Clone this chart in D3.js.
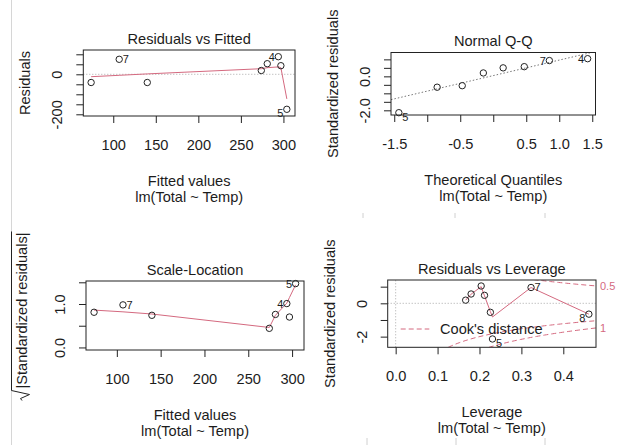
<!DOCTYPE html>
<html>
<head>
<meta charset="utf-8">
<style>
body { margin: 0; background: #fff; }
svg { display: block; font-family: "Liberation Sans", Arial, sans-serif; }
text { fill: #1c1c1c; font-size: 14.6px; }
.id { font-size: 11px; }
</style>
</head>
<body>
<svg width="623" height="445"></svg>
<script src="https://d3js.org/d3.v7.min.js"></script>
<script>

// observations, in order of fitted value
var ids      = ["8", "7", "1", "2", "3", "4", "6", "5"];
var fitted   = [74, 107, 140, 274, 281, 294, 297, 304];
var resid    = [-41, 75, -41, 19, 53, 88, 43, -175];
var stdRes   = [-0.65, 0.95, -0.54, 0.19, 0.56, 1.04, 0.48, -2.14];
var sqrtStd  = [0.81, 0.98, 0.74, 0.44, 0.76, 1.01, 0.70, 1.47];
var leverage = [0.461, 0.323, 0.226, 0.167, 0.180, 0.204, 0.212, 0.231];

// which ids get a label in each panel
var shownRF = ["7", "4", "5"];
var shownQQ = ["5", "7", "4"];
var shownSL = ["7", "4", "5"];
var shownRL = ["7", "8", "5"];

// red smoothers
var smoothRF = [-12, -5, 2, 28, 33, 37, 33, -123];
var smoothSL = [0.86, 0.82, 0.77, 0.46, 0.74, 1.02, 1.15, 1.44];
var smoothRL = [-0.65, 0.95, -0.5, 0.19, 0.55, 1.0, 0.45, -0.82];

// normal Q-Q
var qqTheo   = [-1.43, -0.85, -0.47, -0.15, 0.15, 0.47, 0.85, 1.43];
var qqSample = [-2.14, -0.64, -0.55, 0.2, 0.5, 0.57, 0.93, 1.04];
var qqIds    = ["5", "8", "1", "2", "6", "3", "7", "4"];

var cookLevels = [0.5, 1];
var nCoef = 2;

var ink = "#222", red = "#D4697F";
var svg = d3.select("svg");

// faint screenshot borders
svg.append("line").attr("x1", 11.5).attr("x2", 11.5).attr("y1", 0).attr("y2", 445)
    .attr("stroke", "#d6d6d6");
[[363, 213, 218], [455, 213, 218], [545, 213, 218], [367, 438, 445], [456, 438, 445], [545, 438, 445]]
  .forEach(function(m) {
    svg.append("line").attr("x1", m[0]).attr("x2", m[0]).attr("y1", m[1]).attr("y2", m[2])
        .attr("stroke", "#d0d0d0");
  });

var clipCount = 0;

function panel(p) {
  var g = svg.append("g");
  var b = p.box;
  var x = d3.scaleLinear().domain(p.xDomain).range([b[0], b[1]]);
  var y = d3.scaleLinear().domain(p.yDomain).range([b[3], b[2]]);

  var cid = "clip" + (clipCount++);
  g.append("clipPath").attr("id", cid).append("rect")
      .attr("x", b[0]).attr("y", b[2]).attr("width", b[1] - b[0]).attr("height", b[3] - b[2]);
  var inner = g.append("g").attr("clip-path", "url(#" + cid + ")");

  var xa = g.append("g").attr("transform", "translate(0," + b[3] + ")")
      .call(d3.axisBottom(x).tickValues(p.xTicks).tickSize(7).tickSizeOuter(0)
        .tickFormat(function(d) { return p.xLabels.indexOf(d) >= 0 ? p.xFmt(d) : ""; }));
  xa.attr("font-size", null).attr("font-family", null);
  xa.select(".domain").remove();
  xa.selectAll("line").attr("stroke", ink);
  xa.selectAll("text").attr("y", 33.5).attr("dy", null).attr("fill", null);

  var ya = g.append("g").attr("transform", "translate(" + b[0] + ",0)")
      .call(d3.axisLeft(y).tickValues(p.yTicks).tickSize(7).tickSizeOuter(0)
        .tickFormat(function(d) { return p.yLabels.indexOf(d) >= 0 ? p.yFmt(d) : ""; }));
  ya.attr("font-size", null).attr("font-family", null);
  ya.select(".domain").remove();
  ya.selectAll("line").attr("stroke", ink);
  ya.selectAll("text").attr("x", null).attr("dy", null).attr("fill", null)
      .attr("text-anchor", "middle").attr("transform", "translate(-21,0) rotate(-90)");

  var cx = (b[0] + b[1]) / 2, cy = (b[2] + b[3]) / 2;
  g.append("text").attr("x", cx).attr("y", b[2] - 6.5).attr("text-anchor", "middle").text(p.title);
  g.append("text").attr("x", cx).attr("y", b[3] + 69.5).attr("text-anchor", "middle").text(p.xlab);
  g.append("text").attr("x", cx).attr("y", b[3] + 85.8).attr("text-anchor", "middle").text("lm(Total ~ Temp)");

  if (p.ylab) {
    g.append("text").attr("text-anchor", "middle")
        .attr("transform", "translate(" + (b[0] - 53) + "," + cy + ") rotate(-90)")
        .text(p.ylab);
  }

  g.append("rect").attr("x", b[0]).attr("y", b[2]).attr("width", b[1] - b[0]).attr("height", b[3] - b[2])
      .attr("fill", "none").attr("stroke", ink);

  return { g: g, inner: inner, x: x, y: y };
}

function points(P, xs, ys, labs, shownIds) {
  P.g.append("g").selectAll("circle").data(xs).enter().append("circle")
      .attr("cx", function(d) { return P.x(d); })
      .attr("cy", function(d, i) { return P.y(ys[i]); })
      .attr("r", 3.2).attr("fill", "none").attr("stroke", ink);
  var shown = [];
  xs.forEach(function(d, i) { if (shownIds.indexOf(labs[i]) >= 0) shown.push(i); });
  var mid = (d3.min(shown, function(i) { return xs[i]; }) + d3.max(shown, function(i) { return xs[i]; })) / 2;
  shown.forEach(function(i) {
    var right = xs[i] <= mid;
    P.g.append("text").attr("class", "id")
        .attr("x", P.x(xs[i]) + (right ? 3.5 : -3.5))
        .attr("y", P.y(ys[i]) + (ys[i] < 0 ? 4 : 0))
        .attr("dy", "0.36em")
        .attr("text-anchor", right ? "start" : "end")
        .text(labs[i]);
  });
}

function smooth(P, xs, ys) {
  var pts = xs.map(function(d, i) { return [d, ys[i]]; }).sort(function(a, b) { return a[0] - b[0]; });
  P.inner.append("path").datum(pts)
      .attr("d", d3.line().x(function(d) { return P.x(d[0]); }).y(function(d) { return P.y(d[1]); }))
      .attr("fill", "none").attr("stroke", red);
}

function dotted(P, x1, y1, x2, y2, col, dash) {
  P.inner.append("line")
      .attr("x1", P.x(x1)).attr("y1", P.y(y1)).attr("x2", P.x(x2)).attr("y2", P.y(y2))
      .attr("stroke", col).attr("stroke-dasharray", dash);
}

function intFmt(d) { return String(d); }
function oneFmt(d) { return d.toFixed(1); }

// 1. Residuals vs Fitted
var p1 = panel({
  box: [83.3, 295, 50, 116], xDomain: [64.8, 313.6], yDomain: [-208.5, 121.5],
  xTicks: [100, 150, 200, 250, 300], xLabels: [100, 150, 200, 250, 300], xFmt: intFmt,
  yTicks: [-200, -150, -100, -50, 0, 50, 100], yLabels: [-200, 0], yFmt: intFmt,
  title: "Residuals vs Fitted", xlab: "Fitted values", ylab: "Residuals"
});
dotted(p1, 64.8, 0, 313.6, 0, "#aaa", "1,2");
smooth(p1, fitted, smoothRF);
points(p1, fitted, resid, ids, shownRF);

// 2. Normal Q-Q
var p2 = panel({
  box: [391, 595.5, 52.5, 115], xDomain: [-1.549, 1.549], yDomain: [-2.276, 1.404],
  xTicks: [-1.5, -1, -0.5, 0, 0.5, 1, 1.5], xLabels: [-1.5, -0.5, 0.5, 1, 1.5], xFmt: oneFmt,
  yTicks: [-2, -1.5, -1, -0.5, 0, 0.5, 1], yLabels: [-2, 0], yFmt: oneFmt,
  title: "Normal Q-Q", xlab: "Theoretical Quantiles", ylab: "Standardized residuals"
});
var q1 = d3.quantile(qqSample, 0.25), q3 = d3.quantile(qqSample, 0.75), zq = 0.6745;
var qSlope = (q3 - q1) / (2 * zq), qInt = q1 + zq * qSlope;
dotted(p2, -1.549, qInt - 1.549 * qSlope, 1.549, qInt + 1.549 * qSlope, "#777", "1.5,2");
points(p2, qqTheo, qqSample, qqIds, shownQQ);

// 3. Scale-Location
var p3 = panel({
  box: [86, 304, 281, 350], xDomain: [64.8, 313.6], yDomain: [-0.059, 1.53],
  xTicks: [100, 150, 200, 250, 300], xLabels: [100, 150, 200, 250, 300], xFmt: intFmt,
  yTicks: [0, 0.5, 1, 1.5], yLabels: [0, 1], yFmt: oneFmt,
  title: "Scale-Location", xlab: "Fitted values", ylab: null
});
(function() {
  var lab = p3.g.append("g").attr("transform", "translate(27," + (281 + 350) / 2 + ") rotate(-90)");
  var t = lab.append("text").attr("x", 5).attr("text-anchor", "middle").text("|Standardized residuals|");
  var w = t.node().getComputedTextLength(), l0 = 5 - w / 2;
  lab.append("path")
      .attr("d", "M" + (l0 - 12) + ",-5 L" + (l0 - 10) + ",-6.5 L" + (l0 - 6) + ",2.5 L" + (l0 - 2) +
            ",-15.5 L" + (l0 + w + 1) + ",-15.5")
      .attr("fill", "none").attr("stroke", ink);
})();
smooth(p3, fitted, smoothSL);
points(p3, fitted, sqrtStd, ids, shownSL);

// 4. Residuals vs Leverage
var p4 = panel({
  box: [387.7, 596, 280, 347.3], xDomain: [-0.019, 0.478], yDomain: [-2.64, 1.40],
  xTicks: [0, 0.1, 0.2, 0.3, 0.4], xLabels: [0, 0.1, 0.2, 0.3, 0.4], xFmt: oneFmt,
  yTicks: [-2, -1, 0, 1], yLabels: [-2, 0], yFmt: intFmt,
  title: "Residuals vs Leverage", xlab: "Leverage", ylab: "Standardized residuals"
});
dotted(p4, -0.019, 0, 0.478, 0, "#aaa", "1,2");
dotted(p4, 0, -2.64, 0, 1.40, "#aaa", "1,2");
smooth(p4, leverage, smoothRL);

var hh = d3.range(101).map(function(i) { return 0.005 + i * (0.478 - 0.005) / 100; });
cookLevels.forEach(function(c) {
  [1, -1].forEach(function(s) {
    p4.inner.append("path").datum(hh)
        .attr("d", d3.line().x(function(h) { return p4.x(h); })
          .y(function(h) { return p4.y(s * Math.sqrt(c * nCoef * (1 - h) / h)); }))
        .attr("fill", "none").attr("stroke", red).attr("stroke-dasharray", "5,3");
  });
});
points(p4, leverage, stdRes, ids, shownRL);

// Cook's distance legend and right-hand labels
p4.g.append("line").attr("x1", 400.7).attr("x2", 429.3).attr("y1", 329).attr("y2", 329)
    .attr("stroke", red).attr("stroke-dasharray", "5,3");
p4.g.append("text").attr("x", 440).attr("y", 334.3).text("Cook's distance");

var xmax = Math.min(0.99, 0.478), ymult = Math.sqrt(nCoef * (1 - xmax) / xmax);
[[0.5, 1], [1, -1]].forEach(function(c) {
  p4.g.append("text").attr("class", "id")
      .attr("x", 600).attr("y", p4.y(c[1] * Math.sqrt(c[0]) * ymult)).attr("dy", "0.36em")
      .style("fill", red).text(String(c[0]));
});

</script>
</body>
</html>
